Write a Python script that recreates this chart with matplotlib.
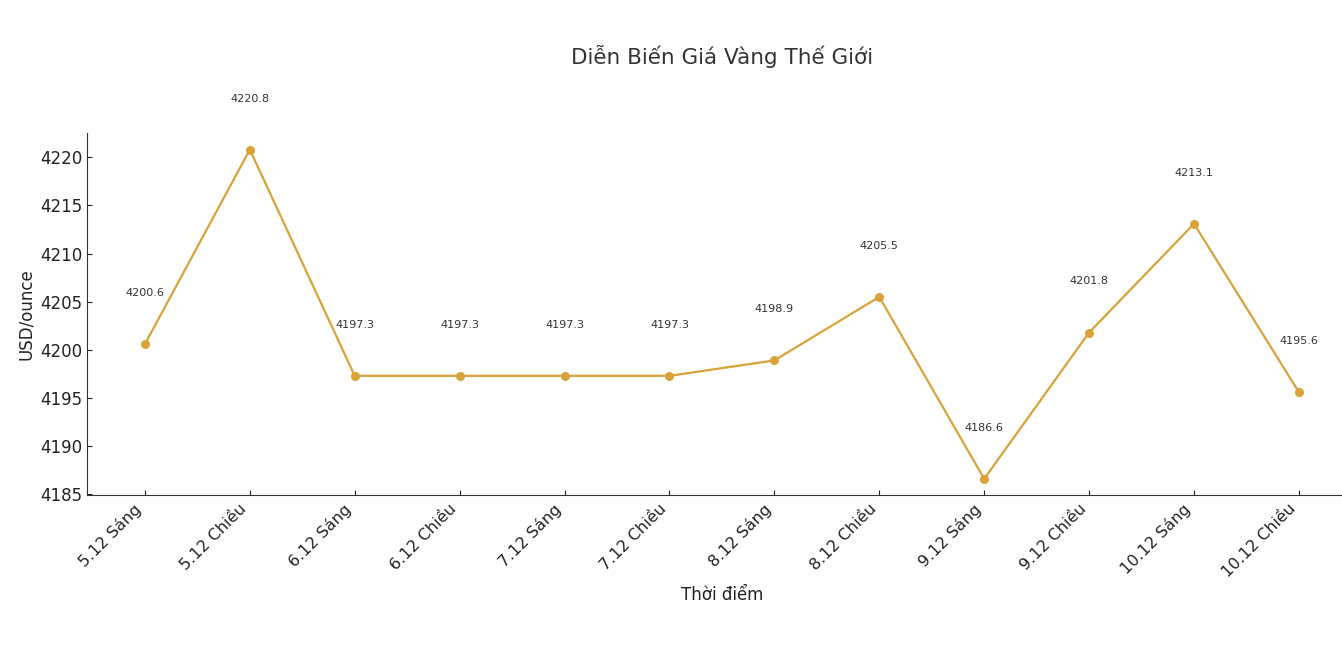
import matplotlib.pyplot as plt

# Gia vang the gioi theo buoi
labels = ['5.12 Sáng', '5.12 Chiều', '6.12 Sáng', '6.12 Chiều',
          '7.12 Sáng', '7.12 Chiều', '8.12 Sáng', '8.12 Chiều',
          '9.12 Sáng', '9.12 Chiều', '10.12 Sáng', '10.12 Chiều']
prices = [4200.6, 4220.8, 4197.3, 4197.3, 4197.3, 4197.3,
          4198.9, 4205.5, 4186.6, 4201.8, 4213.1, 4195.6]

color = '#D9A33A'

fig = plt.figure(figsize=(13.42, 6.56), dpi=100)
# axes run a little past the right edge, as in the original crop
ax = fig.add_axes([0.065, 0.245, 0.9459, 0.552])

x = list(range(len(labels)))
ax.plot(x, prices, '-o', color=color, linewidth=1.6, markersize=5.5)

for i, v in zip(x, prices):
    ax.text(i, v + 5, f'{v}', ha='center', fontsize=8, color='#333333')

ax.set_xticks(x)
ax.set_xticklabels(labels, rotation=45, ha='right')
ax.tick_params(direction='in', labelsize=12, colors='#222222')
ax.tick_params(axis='x', labelsize=11.5, pad=4)

ax.spines['top'].set_visible(False)
ax.spines['right'].set_visible(False)
for s in ['left', 'bottom']:
    ax.spines[s].set_color('#333333')

ax.set_title('Diễn Biến Giá Vàng Thế Giới', fontsize=15.5, color='#333333', pad=50)
ax.set_xlabel('Thời điểm', fontsize=12, color='#222222')
ax.set_ylabel('USD/ounce', fontsize=12, color='#222222')

fig.savefig('out.png', dpi=100)
